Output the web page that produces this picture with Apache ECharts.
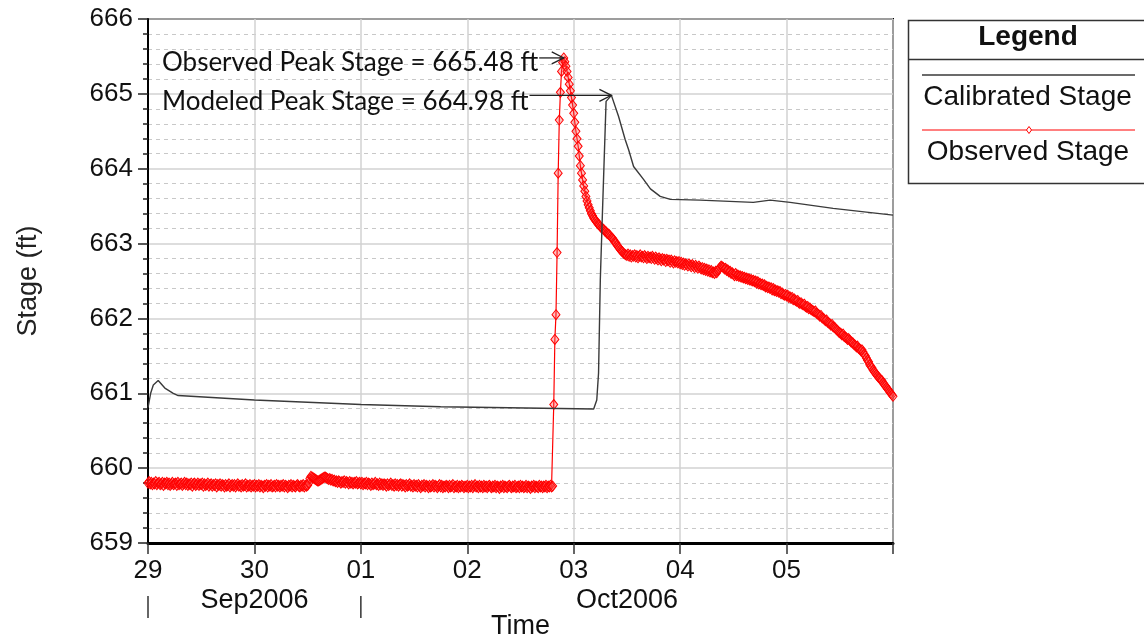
<!DOCTYPE html>
<html><head><meta charset="utf-8">
<script src="https://cdn.jsdelivr.net/npm/echarts@6/dist/echarts.min.js"></script>
<style>html,body{margin:0;padding:0;background:#fff;}#c{width:1144px;height:639px;}</style>
</head><body><div id="c"></div>
<script>
// ---- data ----
const xTickLabels = ['29', '30', '01', '02', '03', '04', '05', ''];
const monthNames = ['Sep2006', 'Oct2006'];
const monthStartDays = [0, 2];
const monthEndDays = [2, 7];
const seriesNames = ['Calibrated Stage', 'Observed Stage'];
const annotationTexts = ['Observed Peak Stage = 665.48 ft', 'Modeled Peak Stage = 664.98 ft'];

// Observed stage, 15-minute readings from 29Sep2006 00:00
const obsStepMinutes = 15;
const obsStage = [
659.80,659.82,659.79,659.81,659.78,659.80,659.79,659.82,659.78,659.80,659.81,659.78,659.79,659.81,659.77,659.80,659.79,659.81,659.78,659.80,659.77,659.79,659.81,659.78,
659.79,659.80,659.77,659.81,659.78,659.79,659.80,659.77,659.79,659.81,659.78,659.80,659.77,659.79,659.78,659.80,659.76,659.79,659.80,659.77,659.78,659.80,659.77,659.79,
659.78,659.80,659.76,659.79,659.77,659.78,659.80,659.76,659.78,659.79,659.76,659.78,659.77,659.79,659.75,659.78,659.77,659.79,659.76,659.78,659.77,659.75,659.78,659.76,
659.77,659.79,659.75,659.77,659.78,659.76,659.78,659.75,659.77,659.79,659.76,659.77,659.75,659.78,659.76,659.77,659.79,659.75,659.77,659.76,659.78,659.75,659.77,659.76,
659.78,659.75,659.77,659.76,659.78,659.75,659.77,659.76,659.74,659.77,659.76,659.78,659.75,659.77,659.76,659.78,659.75,659.76,659.77,659.75,659.78,659.76,659.77,659.75,
659.77,659.76,659.78,659.75,659.77,659.76,659.74,659.77,659.76,659.78,659.75,659.77,659.76,659.75,659.77,659.78,659.76,659.75,659.77,659.76,659.78,659.75,659.77,659.76,
659.77,659.80,659.86,659.89,659.88,659.87,659.86,659.85,659.84,659.83,659.83,659.84,659.85,659.86,659.87,659.88,659.88,659.87,659.86,659.85,659.86,659.84,659.85,659.83,
659.84,659.82,659.83,659.81,659.83,659.82,659.80,659.82,659.81,659.83,659.80,659.82,659.81,659.79,659.82,659.80,659.81,659.79,659.81,659.80,659.82,659.79,659.80,659.81,
659.79,659.81,659.78,659.80,659.79,659.81,659.78,659.80,659.79,659.77,659.80,659.78,659.79,659.81,659.78,659.79,659.77,659.80,659.78,659.79,659.77,659.79,659.78,659.76,
659.79,659.77,659.78,659.80,659.77,659.78,659.76,659.79,659.77,659.78,659.76,659.78,659.79,659.76,659.78,659.77,659.75,659.78,659.76,659.77,659.79,659.76,659.77,659.75,
659.78,659.76,659.77,659.75,659.78,659.76,659.74,659.77,659.76,659.78,659.75,659.77,659.76,659.74,659.77,659.75,659.76,659.78,659.75,659.77,659.76,659.74,659.76,659.78,
659.75,659.77,659.74,659.76,659.75,659.77,659.76,659.74,659.77,659.75,659.76,659.78,659.74,659.76,659.75,659.77,659.74,659.76,659.75,659.77,659.76,659.74,659.76,659.75,
659.77,659.74,659.76,659.75,659.77,659.74,659.76,659.78,659.75,659.76,659.74,659.77,659.75,659.76,659.74,659.77,659.75,659.76,659.74,659.76,659.77,659.75,659.74,659.76,
659.75,659.77,659.74,659.76,659.75,659.73,659.76,659.75,659.77,659.74,659.76,659.75,659.74,659.76,659.77,659.75,659.74,659.76,659.75,659.77,659.74,659.75,659.76,659.74,
659.77,659.75,659.76,659.74,659.75,659.77,659.74,659.76,659.75,659.73,659.76,659.75,659.77,659.74,659.76,659.75,659.74,659.77,659.75,659.76,659.74,659.76,659.75,659.77,
659.74,659.76,659.75,659.77,659.75,659.76,660.85,661.72,662.05,662.88,663.94,664.65,665.02,665.30,665.42,665.48,665.43,665.37,665.30,665.22,665.13,665.04,664.95,664.85,
664.74,664.62,664.50,664.40,664.30,664.17,664.04,663.94,663.85,663.77,663.70,663.63,663.57,663.52,663.48,663.44,663.40,663.37,663.34,663.32,663.30,663.28,663.26,663.25,
663.23,663.21,663.20,663.19,663.17,663.16,663.14,663.13,663.12,663.10,663.08,663.07,663.05,663.02,663.01,662.98,662.96,662.94,662.92,662.90,662.89,662.87,662.86,662.85,
662.84,662.86,662.83,662.85,662.82,662.84,662.83,662.85,662.82,662.84,662.81,662.83,662.85,662.82,662.83,662.81,662.84,662.82,662.80,662.83,662.81,662.82,662.80,662.83,
662.81,662.79,662.82,662.80,662.78,662.81,662.79,662.77,662.80,662.78,662.79,662.76,662.79,662.77,662.78,662.75,662.78,662.76,662.74,662.77,662.75,662.76,662.74,662.76,
662.73,662.75,662.72,662.74,662.71,662.73,662.72,662.70,662.73,662.71,662.69,662.72,662.70,662.68,662.71,662.69,662.67,662.70,662.68,662.66,662.68,662.65,662.67,662.64,
662.66,662.63,662.65,662.62,662.64,662.61,662.62,662.60,662.63,662.61,662.64,662.66,662.68,662.70,662.69,662.68,662.66,662.67,662.64,662.65,662.62,662.63,662.60,662.61,
662.59,662.57,662.60,662.57,662.58,662.56,662.57,662.55,662.56,662.54,662.55,662.53,662.54,662.52,662.53,662.51,662.52,662.50,662.51,662.49,662.50,662.47,662.49,662.46,
662.47,662.45,662.46,662.44,662.45,662.42,662.43,662.41,662.42,662.40,662.41,662.38,662.40,662.37,662.38,662.36,662.37,662.35,662.36,662.33,662.34,662.32,662.31,662.32,
662.30,662.31,662.28,662.29,662.27,662.28,662.25,662.26,662.24,662.23,662.24,662.21,662.20,662.21,662.19,662.18,662.19,662.16,662.15,662.16,662.13,662.14,662.12,662.11,
662.10,662.09,662.10,662.07,662.06,662.05,662.03,662.04,662.01,662.00,661.99,661.97,661.98,661.95,661.94,661.93,661.91,661.92,661.89,661.88,661.87,661.85,661.84,661.82,
661.81,661.80,661.78,661.79,661.76,661.75,661.74,661.72,661.73,661.71,661.69,661.68,661.67,661.65,661.64,661.62,661.63,661.60,661.59,661.57,661.58,661.55,661.52,661.50,
661.47,661.44,661.42,661.38,661.36,661.34,661.31,661.29,661.27,661.25,661.23,661.21,661.20,661.18,661.17,661.14,661.12,661.10,661.08,661.06,661.04,661.02,661.00,660.98,660.96
];

// Calibrated (modeled) stage: hours after 29Sep2006 00:00 and stage (ft)
const calHours = [0, 0.6, 1.2, 2.3, 3.8, 5.7, 6.8, 24, 48, 66, 100.5, 101.2, 101.6, 102.0, 102.4, 103.3, 104.5, 106.1, 107.6, 108.4, 109.5, 111.7, 113.3, 115.5, 117.8, 124.5, 136.5, 140.3, 144.8, 154.5, 168];
const calStage = [660.81, 661.00, 661.11, 661.17, 661.07, 661.00, 660.97, 660.91, 660.85, 660.82, 660.79, 660.91, 661.27, 662.52, 663.27, 664.90, 664.98, 664.70, 664.39, 664.25, 664.03, 663.86, 663.73, 663.63, 663.59, 663.58, 663.55, 663.58, 663.55, 663.47, 663.38];

// ---- chart ----
const FONT = 'Liberation Sans, Arial, sans-serif';
const obsData = obsStage.map((v, i) => [i * obsStepMinutes / 1440, v]);
const calData = calHours.map((h, i) => [h / 24, calStage[i]]);

const chart = echarts.init(document.getElementById('c'), null, {renderer: 'canvas'});
chart.setOption({
  animation: false,
  textStyle: {fontFamily: FONT},
  grid: {left: 148, right: 251, top: 19, bottom: 96, containLabel: false, outerBoundsMode: 'none',
    show: true, borderColor: '#000', borderWidth: 2, backgroundColor: 'transparent'},
  xAxis: {
    type: 'value', min: 0, max: 7, interval: 1,
    axisLine: {onZero: false, lineStyle: {color: '#000', width: 3}},
    axisTick: {show: true, length: 11, lineStyle: {color: '#333', width: 1.5}},
    axisLabel: {formatter: v => xTickLabels[Math.round(v)] || '', fontFamily: FONT, fontSize: 26, color: '#111', margin: 15},
    splitLine: {show: true, lineStyle: {color: '#d2d2d2', width: 1.5}},
    name: 'Time', nameLocation: 'middle', nameGap: 70,
    nameTextStyle: {fontFamily: FONT, fontSize: 27, color: '#111'}
  },
  yAxis: {
    type: 'value', min: 659, max: 666, interval: 1,
    axisLine: {show: true, lineStyle: {color: '#000', width: 2}},
    axisTick: {show: true, length: 10, lineStyle: {color: '#222', width: 1.5}},
    minorTick: {show: true, splitNumber: 5, length: 5, lineStyle: {color: '#222', width: 1.5}},
    axisLabel: {fontFamily: FONT, fontSize: 26, color: '#111', margin: 15},
    splitLine: {show: true, lineStyle: {color: '#d2d2d2', width: 1.5}},
    minorSplitLine: {show: true, lineStyle: {color: '#c8c8c8', width: 1, type: [4, 4]}},
    name: 'Stage (ft)', nameLocation: 'middle', nameGap: 106,
    nameTextStyle: {fontFamily: FONT, fontSize: 27, color: '#222'}
  },
  series: [
    {
      name: seriesNames[1], type: 'line', data: obsData,
      showSymbol: true, showAllSymbol: true, symbol: 'diamond', symbolSize: [8, 10],
      itemStyle: {color: 'rgba(255,70,70,0.35)', borderColor: '#ff0000', borderWidth: 1},
      lineStyle: {color: '#ff0000', width: 1.2}, sampling: null, z: 2
    },
    {
      name: seriesNames[0], type: 'line', data: calData, showSymbol: false,
      lineStyle: {color: '#3a3a3a', width: 1.4}, z: 3
    }
  ]
});

// ---- annotations & legend (positions derived from axes) ----
function px(day, val) { return chart.convertToPixel({gridIndex: 0}, [day, val]); }
const meas = document.createElement('canvas').getContext('2d');
const ANN_FONT = '26px Lato';
meas.font = ANN_FONT;

function peakOf(data) { let b = data[0]; data.forEach(d => { if (d[1] > b[1]) b = d; }); return b; }
const obsPeak = peakOf(obsData), calPeak = peakOf(calData);
const graphics = [];
const textLeft = 162;
[[obsPeak, annotationTexts[0], 5], [calPeak, annotationTexts[1], 6]].forEach(([pk, txt, dy]) => {
  const p = px(pk[0], pk[1]);
  const w = meas.measureText(txt).width;
  graphics.push({type: 'text', x: textLeft, y: p[1] + dy, z: 50,
    style: {text: txt, font: ANN_FONT, fill: '#111', align: 'left', verticalAlign: 'middle', textAlign: 'left', textVerticalAlign: 'middle'}});
  graphics.push({type: 'line', z: 50, shape: {x1: textLeft + w + 1, y1: p[1], x2: p[0], y2: p[1]}, style: {stroke: '#222', lineWidth: 1.3}});
  graphics.push({type: 'polyline', z: 50, shape: {points: [[p[0] - 12, p[1] - 6], [p[0], p[1]], [p[0] - 12, p[1] + 6]]}, style: {stroke: '#222', lineWidth: 1.3, fill: null}});
});

// month labels and separators
const axisY = px(0, 659)[1];
monthNames.forEach((m, k) => {
  const x0 = px(monthStartDays[k], 659)[0], x1 = px(monthEndDays[k], 659)[0];
  graphics.push({type: 'text', x: (x0 + x1) / 2, y: axisY + 58,
    style: {text: m, font: '27px ' + FONT, fill: '#111', align: 'center', verticalAlign: 'middle', textAlign: 'center', textVerticalAlign: 'middle'}});
  graphics.push({type: 'line', shape: {x1: x0, y1: axisY + 53, x2: x0, y2: axisY + 75}, style: {stroke: '#333', lineWidth: 1.5}});
});

// legend box
graphics.push({type: 'rect', shape: {x: 908.5, y: 20.5, width: 260, height: 163}, style: {fill: '#fff', stroke: '#333', lineWidth: 1.5}});
graphics.push({type: 'line', shape: {x1: 908.5, y1: 59.5, x2: 1150, y2: 59.5}, style: {stroke: '#333', lineWidth: 1.5}});
graphics.push({type: 'text', x: 1028, y: 37, style: {text: 'Legend', font: 'bold 28px ' + FONT, fill: '#111', align: 'center', verticalAlign: 'middle', textAlign: 'center', textVerticalAlign: 'middle'}});
graphics.push({type: 'line', shape: {x1: 922, y1: 75, x2: 1135, y2: 75}, style: {stroke: '#3a3a3a', lineWidth: 1.4}});
graphics.push({type: 'text', x: 1027.5, y: 97, style: {text: seriesNames[0], font: '28px ' + FONT, fill: '#111', align: 'center', verticalAlign: 'middle', textAlign: 'center', textVerticalAlign: 'middle'}});
graphics.push({type: 'line', shape: {x1: 922, y1: 130, x2: 1135, y2: 130}, style: {stroke: '#ff0000', lineWidth: 1}});
graphics.push({type: 'polygon', shape: {points: [[1029, 126.5], [1031.5, 130], [1029, 133.5], [1026.5, 130]]}, style: {fill: '#fff', stroke: '#ff0000', lineWidth: 1}});
graphics.push({type: 'text', x: 1028, y: 152, style: {text: seriesNames[1], font: '28px ' + FONT, fill: '#111', align: 'center', verticalAlign: 'middle', textAlign: 'center', textVerticalAlign: 'middle'}});

chart.setOption({graphic: graphics});
</script>
</body></html>
